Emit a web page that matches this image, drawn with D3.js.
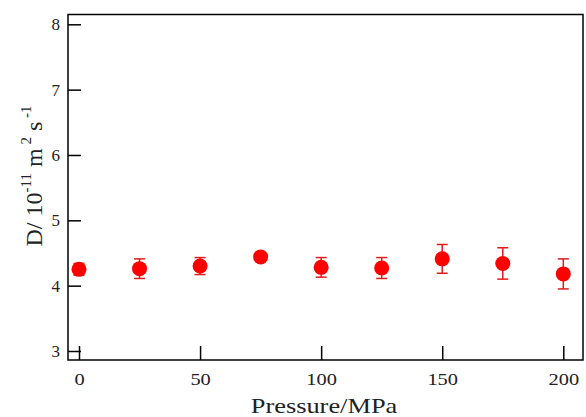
<!DOCTYPE html>
<html>
<head>
<meta charset="utf-8">
<script src="https://cdnjs.cloudflare.com/ajax/libs/d3/7.8.5/d3.min.js"></script>
<style>
  body { margin: 0; background: #fff; }
</style>
</head>
<body>
<script>
// data
var pressure = [0, 25, 50, 75, 100, 125, 150, 175, 200];
var diff = [4.25, 4.26, 4.30, 4.44, 4.28, 4.27, 4.41, 4.34, 4.18];
var err = [0.09, 0.15, 0.13, 0.03, 0.15, 0.16, 0.22, 0.24, 0.23];
var xTicks = [0, 50, 100, 150, 200];
var yTicks = [3, 4, 5, 6, 7, 8];

var serif = '"Liberation Serif", "Times New Roman", serif';
var W = 586, H = 417;
var mLeft = 68, mRight = 583, mTop = 14.5, mBottom = 360;

var svg = d3.select('body').append('svg').attr('width', W).attr('height', H);

var x = d3.scaleLinear().domain([0, 200]).range([79, 563.3]);
var y = d3.scaleLinear().domain([3, 8]).range([351, 24.3]);

// x axis, ticks pointing in
var gx = svg.append('g').attr('transform', 'translate(0,' + mBottom + ')')
  .call(d3.axisBottom(x).tickValues(xTicks).tickSize(-14).tickSizeOuter(0).tickFormat(d3.format('d')));
gx.select('.domain').remove();
gx.selectAll('line').attr('stroke', '#000').attr('stroke-width', 1.5);
gx.selectAll('text').attr('y', 0).attr('dy', 0)
  .attr('transform', 'translate(0,25) scale(1.2,1)')
  .style('font-family', serif).style('font-size', '17px').attr('fill', '#222');

// y axis
var gy = svg.append('g').attr('transform', 'translate(' + mLeft + ',0)')
  .call(d3.axisLeft(y).tickValues(yTicks).tickSize(-13).tickSizeOuter(0).tickFormat(d3.format('d')));
gy.select('.domain').remove();
gy.selectAll('line').attr('stroke', '#000').attr('stroke-width', 1.5);
gy.selectAll('text').attr('x', -8).attr('dy', '0.33em')
  .style('font-family', serif).style('font-size', '17px').attr('fill', '#222');

// frame
svg.append('rect').attr('x', mLeft).attr('y', mTop)
  .attr('width', mRight - mLeft).attr('height', mBottom - mTop)
  .attr('fill', 'none').attr('stroke', '#000').attr('stroke-width', 1.5);

// error bars
var eb = svg.append('g').attr('stroke', '#e01c1c').attr('stroke-width', 1.5);
pressure.forEach(function(p, i) {
  var cx = x(p), y1 = y(diff[i] + err[i]), y2 = y(diff[i] - err[i]);
  eb.append('line').attr('x1', cx).attr('x2', cx).attr('y1', y1).attr('y2', y2);
  eb.append('line').attr('x1', cx - 5.5).attr('x2', cx + 5.5).attr('y1', y1).attr('y2', y1);
  eb.append('line').attr('x1', cx - 5.5).attr('x2', cx + 5.5).attr('y1', y2).attr('y2', y2);
});

// points
svg.append('g').selectAll('circle')
  .data(pressure)
  .enter()
  .append('circle')
  .attr('cx', function(d) { return x(d); })
  .attr('cy', function(d, i) { return y(diff[i]); })
  .attr('r', 7.5)
  .attr('fill', '#ff0000');

// axis titles
svg.append('text').attr('transform', 'translate(324,413) scale(1.2,1)').attr('text-anchor', 'middle')
  .style('font-family', serif).style('font-size', '22px').attr('fill', '#222').text('Pressure/MPa');

var yl = svg.append('text').attr('transform', 'translate(42,176) rotate(-90)')
  .attr('text-anchor', 'middle').style('font-family', serif).style('font-size', '24px').attr('fill', '#222');
yl.append('tspan').text('D/ 10');
yl.append('tspan').attr('dy', -11).style('font-size', '15px').text('-11');
yl.append('tspan').attr('dy', 11).text(' m');
yl.append('tspan').attr('dy', -11).style('font-size', '15px').text(' 2');
yl.append('tspan').attr('dy', 11).text(' s');
yl.append('tspan').attr('dy', -11).style('font-size', '15px').text(' -1');
</script>
</body>
</html>
